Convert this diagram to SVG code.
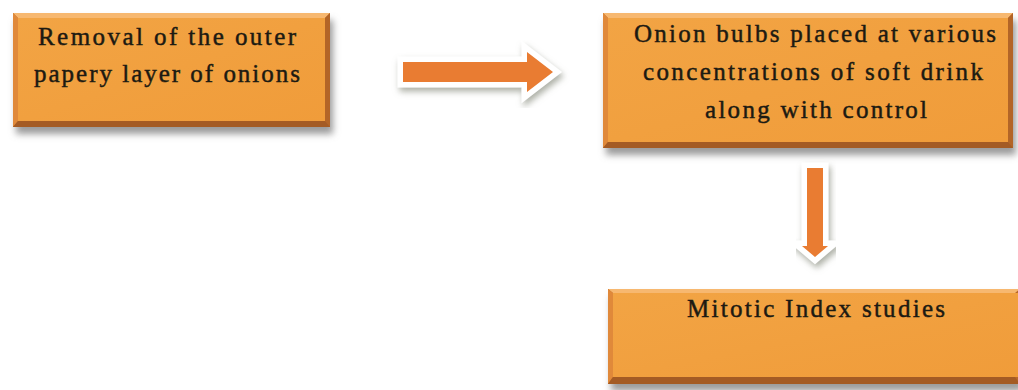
<svg xmlns="http://www.w3.org/2000/svg" width="1018" height="390" viewBox="0 0 1018 390">
<defs>
<filter id="sh" x="-10%" y="-20%" width="130%" height="160%">
<feDropShadow dx="3" dy="7" stdDeviation="3.5" flood-color="#7a7a7a" flood-opacity="0.75"/>
</filter>
<filter id="ash" x="-20%" y="-30%" width="150%" height="170%">
<feDropShadow dx="2" dy="4" stdDeviation="3" flood-color="#8a8f80" flood-opacity="0.7"/>
</filter>
<linearGradient id="face" x1="0" y1="0" x2="1" y2="1">
<stop offset="0" stop-color="#F2A444"/>
<stop offset="1" stop-color="#F09C3A"/>
</linearGradient>
</defs>
<style>
.outer{fill:#B8692C}
.top{fill:#F7B870}
.left{fill:#E0893A}
.right{fill:#B36527}
.bot{fill:#A45B24}
.face{fill:url(#face)}
.t{font-family:"Liberation Serif","Times New Roman",serif;font-size:25px;fill:#1c1a12;text-anchor:middle;stroke:#1c1a12;stroke-width:0.45}
.arr{fill:#E97C33;stroke:#FFFFFF;stroke-width:11;stroke-linejoin:miter;paint-order:stroke}
</style>
<rect width="1018" height="390" fill="#FFFFFF"/>

<g id="node1">
<g filter="url(#sh)">
<rect class="outer" x="13" y="13" width="317" height="114"/>
</g>
<polygon class="top" points="13,13 330,13 325,18 18,18"/>
<polygon class="left" points="13,13 18,18 18,121 13,127"/>
<polygon class="right" points="330,13 330,127 325,121 325,18"/>
<polygon class="bot" points="13,127 330,127 325,121 18,121"/>
<rect class="face" x="18" y="18" width="307" height="103"/>
<text class="t" x="167" y="45" textLength="258" lengthAdjust="spacing">Removal of the outer</text>
<text class="t" x="167" y="82" textLength="266" lengthAdjust="spacing">papery layer of onions</text>
</g>

<g id="node2">
<g filter="url(#sh)">
<rect class="outer" x="603" y="13" width="410" height="135"/>
</g>
<polygon class="top" points="603,13 1013,13 1008,18 608,18"/>
<polygon class="left" points="603,13 608,18 608,142 603,148"/>
<polygon class="right" points="1013,13 1013,148 1008,142 1008,18"/>
<polygon class="bot" points="603,148 1013,148 1008,142 608,142"/>
<rect class="face" x="608" y="18" width="400" height="124"/>
<text class="t" x="815" y="42" textLength="362" lengthAdjust="spacing">Onion bulbs placed at various</text>
<text class="t" x="813" y="80" textLength="340" lengthAdjust="spacing">concentrations of soft drink</text>
<text class="t" x="816" y="118" textLength="222" lengthAdjust="spacing">along with control</text>
</g>

<g id="node3">
<g filter="url(#sh)">
<rect class="outer" x="608" y="289" width="412" height="95"/>
</g>
<polygon class="top" points="608,289 1020,289 1015,293 613,293"/>
<polygon class="left" points="608,289 613,293 613,377 608,384"/>
<polygon class="bot" points="608,384 1020,384 1015,377 613,377"/>
<rect class="face" x="613" y="293" width="405" height="84"/>
<text class="t" x="816" y="317" textLength="258" lengthAdjust="spacing">Mitotic Index studies</text>
</g>

<g id="connectors">
<polygon class="arr" filter="url(#ash)" points="403,62 527,62 527,52 553,72 527,92 527,82 403,82"/>
<polygon class="arr" filter="url(#ash)" points="807,168 823,168 823,246 828,246 815,257 802,246 807,246"/>
</g>
</svg>
